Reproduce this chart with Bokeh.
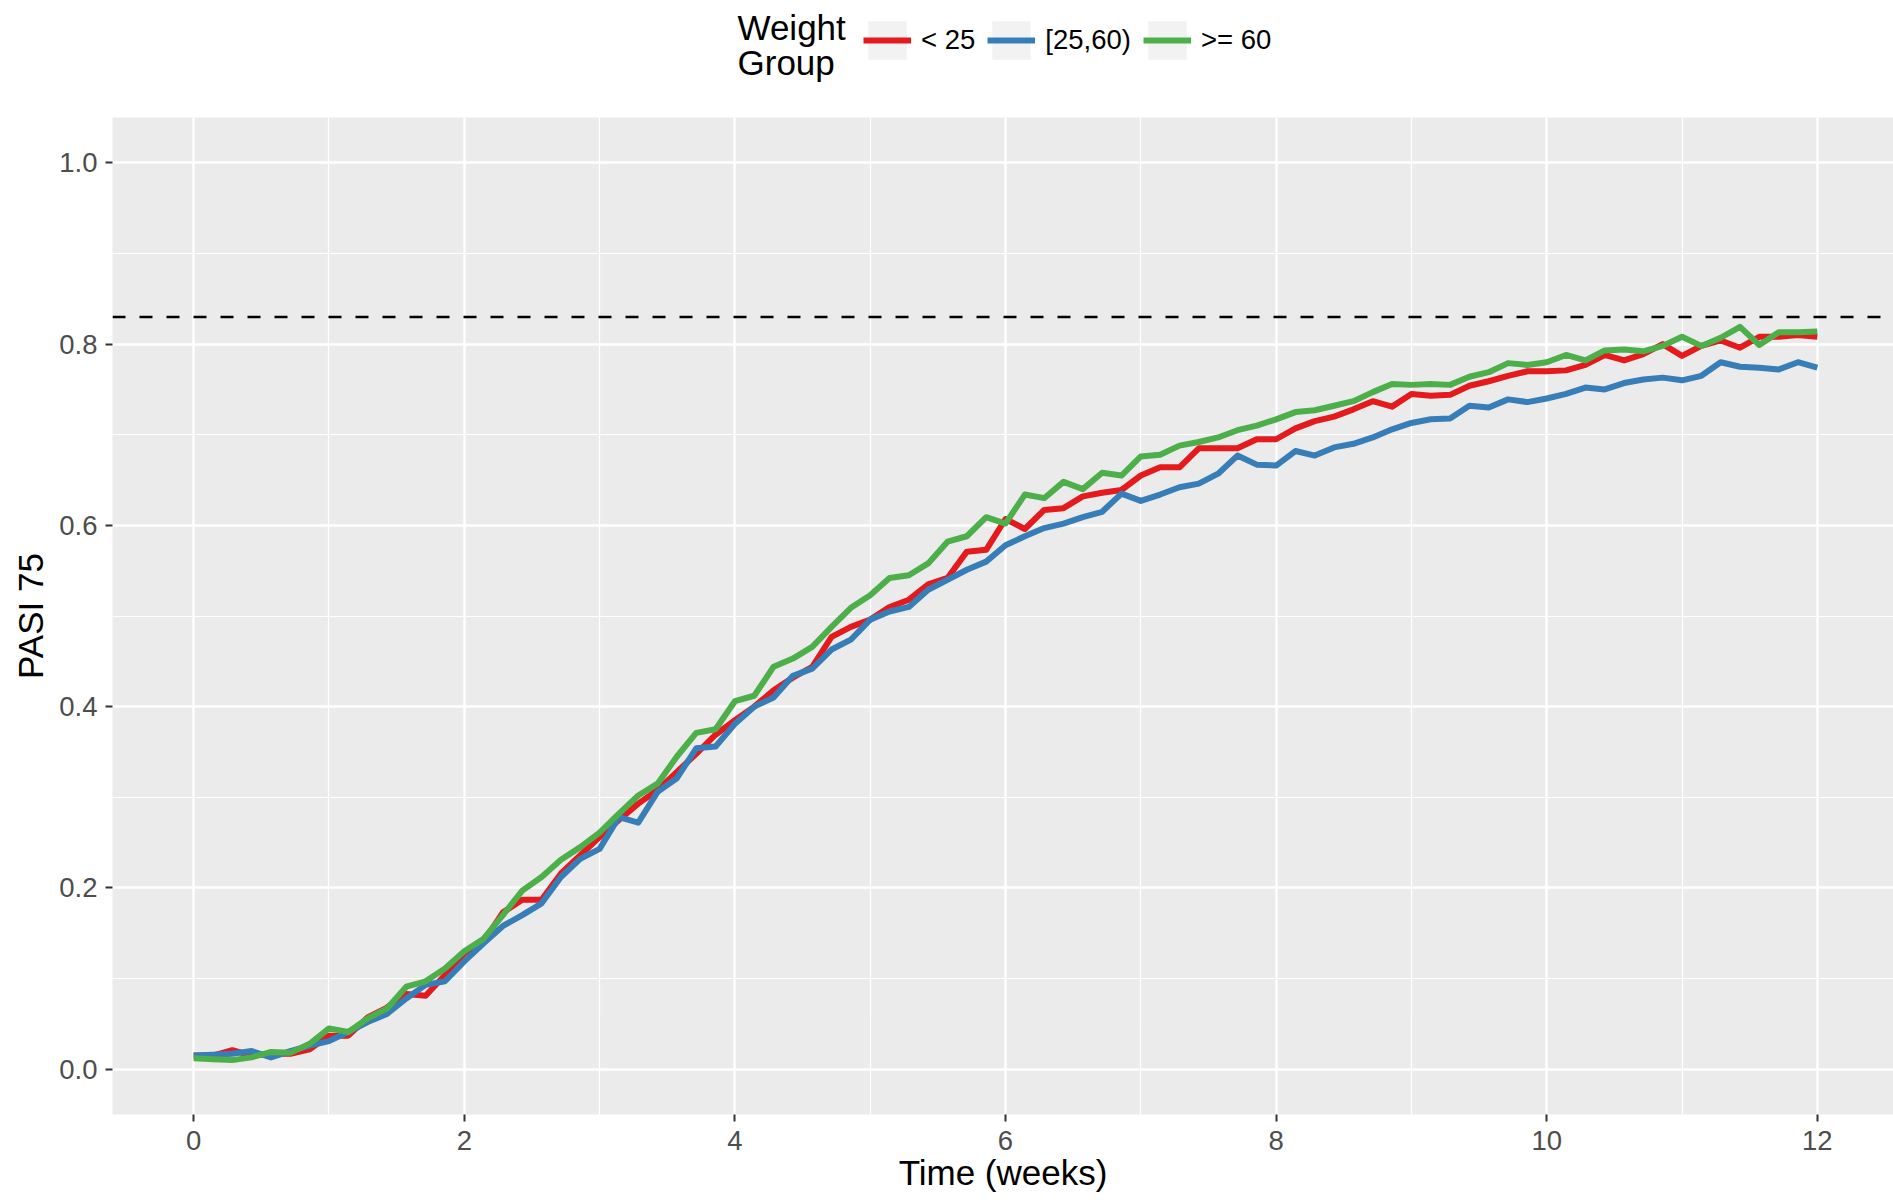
from bokeh.plotting import figure
from bokeh.layouts import column
from bokeh.models import (Range1d, FixedTicker, NumeralTickFormatter, Span, Label,
                          Legend, LegendItem)
from bokeh.embed import file_html
from bokeh.resources import INLINE

# ---------------- data ----------------
days = list(range(85))
time_weeks = [d / 7 for d in days]

group_labels = ["< 25", "[25,60)", ">= 60"]
group_colors = ["#E41A1C", "#377EB8", "#4DAF4A"]

pasi_lt25 = [0.015, 0.015, 0.021, 0.015, 0.017, 0.017, 0.022, 0.037, 0.037, 0.057,
             0.068, 0.083, 0.081, 0.104, 0.128, 0.141, 0.173, 0.187, 0.187, 0.216,
             0.236, 0.256, 0.275, 0.293, 0.308, 0.328, 0.348, 0.369, 0.385, 0.400,
             0.418, 0.432, 0.444, 0.477, 0.488, 0.496, 0.510, 0.518, 0.535, 0.542,
             0.571, 0.573, 0.607, 0.596, 0.617, 0.619, 0.632, 0.636, 0.639, 0.655,
             0.664, 0.664, 0.685, 0.685, 0.685, 0.695, 0.695, 0.707, 0.715, 0.720,
             0.728, 0.737, 0.731, 0.745, 0.743, 0.744, 0.754, 0.759, 0.765, 0.770,
             0.770, 0.771, 0.777, 0.788, 0.782, 0.789, 0.800, 0.787, 0.798, 0.804,
             0.796, 0.808, 0.808, 0.810, 0.808]

pasi_25_60 = [0.015, 0.016, 0.017, 0.020, 0.013, 0.020, 0.026, 0.031, 0.041, 0.052,
              0.061, 0.078, 0.093, 0.097, 0.119, 0.139, 0.158, 0.170, 0.183, 0.212,
              0.232, 0.243, 0.278, 0.272, 0.306, 0.321, 0.354, 0.356, 0.381, 0.400,
              0.410, 0.434, 0.442, 0.463, 0.474, 0.496, 0.505, 0.510, 0.529, 0.540,
              0.551, 0.560, 0.578, 0.588, 0.597, 0.602, 0.609, 0.615, 0.635, 0.627,
              0.634, 0.642, 0.646, 0.657, 0.677, 0.667, 0.666, 0.682, 0.677, 0.686,
              0.690, 0.697, 0.706, 0.713, 0.717, 0.718, 0.732, 0.730, 0.739, 0.736,
              0.740, 0.745, 0.752, 0.750, 0.757, 0.761, 0.763, 0.760, 0.765, 0.780,
              0.775, 0.774, 0.772, 0.780, 0.774]

pasi_ge60 = [0.012, 0.011, 0.010, 0.013, 0.019, 0.018, 0.028, 0.045, 0.041, 0.056,
             0.067, 0.091, 0.097, 0.111, 0.130, 0.144, 0.170, 0.197, 0.212, 0.231,
             0.245, 0.261, 0.282, 0.302, 0.315, 0.345, 0.371, 0.375, 0.406, 0.412,
             0.444, 0.453, 0.466, 0.488, 0.509, 0.523, 0.542, 0.545, 0.558, 0.582,
             0.588, 0.609, 0.602, 0.634, 0.630, 0.648, 0.640, 0.658, 0.655, 0.676,
             0.678, 0.688, 0.692, 0.697, 0.705, 0.710, 0.717, 0.725, 0.727, 0.732,
             0.737, 0.747, 0.756, 0.755, 0.756, 0.755, 0.764, 0.769, 0.779, 0.777,
             0.780, 0.788, 0.782, 0.793, 0.794, 0.792, 0.798, 0.808, 0.798, 0.807,
             0.819, 0.799, 0.813, 0.813, 0.814]

target_line = 0.83

x_ticks = [0, 2, 4, 6, 8, 10, 12]
x_minor = [1, 3, 5, 7, 9, 11]
y_ticks = [0.0, 0.2, 0.4, 0.6, 0.8, 1.0]
y_minor = [0.1, 0.3, 0.5, 0.7, 0.9]

x_title = "Time (weeks)"
y_title = "PASI 75"
legend_title = ["Weight", "Group"]

# ---------------- layout constants ----------------
FONT = "Liberation Sans"
W, H = 1893, 1200
HH = 117                 # header (legend) height
MH = H - HH              # main figure height
BL, BB = 112, 86
X0, X1 = -0.6, 12.563
Y0, Y1 = -0.05, 1.05
LINE_W = 6

# ---------------- header with the legend ----------------
hdr = figure(width=W, height=HH, x_range=Range1d(BL, W), y_range=Range1d(HH, 0),
             output_backend="svg", toolbar_location=None,
             x_axis_type=None, y_axis_type=None,
             min_border_left=0, min_border_right=0, min_border_top=0,
             min_border_bottom=0)
hdr.outline_line_color = None
hdr.background_fill_color = "white"
hdr.border_fill_color = "white"
hdr.xgrid.visible = False
hdr.ygrid.visible = False

items = []
for lab, col in zip(group_labels, group_colors):
    bg = hdr.rect(x=[-500], y=[-500], width=1, height=1, fill_color="#F2F2F2",
                  line_color=None)
    ln = hdr.line([-500, -499], [-500, -500], line_color=col, line_width=LINE_W)
    items.append(LegendItem(label=lab, renderers=[bg, ln]))

legend = Legend(items=items, orientation="horizontal",
                location=(863 - BL, HH - 64),
                glyph_width=48, glyph_height=48, label_standoff=10, spacing=12,
                padding=0, margin=0, border_line_color=None,
                background_fill_alpha=0, label_text_font=FONT,
                label_text_font_size="27.5px", label_text_color="black",
                label_text_baseline="middle")
hdr.add_layout(legend)

hdr.add_layout(Label(x=737, y=27, text=legend_title[0], text_font=FONT,
                     text_font_size="35px", text_color="black",
                     text_baseline="alphabetic", text_align="left"))
hdr.add_layout(Label(x=737, y=62, text=legend_title[1], text_font=FONT,
                     text_font_size="35px", text_color="black",
                     text_baseline="alphabetic", text_align="left"))

# ---------------- main plot ----------------
p = figure(width=W, height=MH, x_range=Range1d(X0, X1), y_range=Range1d(Y0, Y1),
           output_backend="svg", toolbar_location=None,
           min_border_left=BL, min_border_right=0, min_border_top=0,
           min_border_bottom=BB)
p.background_fill_color = "#EBEBEB"
p.border_fill_color = "white"
p.outline_line_color = None

xt = FixedTicker(ticks=x_ticks, minor_ticks=x_minor)
yt = FixedTicker(ticks=y_ticks, minor_ticks=y_minor)
p.xaxis.ticker = xt
p.yaxis.ticker = yt
p.xgrid.ticker = xt
p.ygrid.ticker = yt
p.xaxis.formatter = NumeralTickFormatter(format="0")
p.yaxis.formatter = NumeralTickFormatter(format="0.0")

for g in (p.xgrid, p.ygrid):
    g.grid_line_color = "white"
    g.grid_line_width = 2.4
    g.minor_grid_line_color = "white"
    g.minor_grid_line_width = 1.2

for ax in (p.xaxis, p.yaxis):
    ax.axis_line_color = None
    ax.major_tick_line_color = "#333333"
    ax.major_tick_line_width = 2
    ax.major_tick_in = 0
    ax.major_tick_out = 7
    ax.minor_tick_line_color = None
    ax.major_label_text_color = "#4D4D4D"
    ax.major_label_text_font = FONT
    ax.major_label_text_font_size = "27.5px"
    ax.axis_label_text_font = FONT
    ax.axis_label_text_font_size = "35px"
    ax.axis_label_text_font_style = "normal"
    ax.axis_label_text_color = "black"
p.xaxis.major_label_standoff = 9
p.yaxis.major_label_standoff = 8
p.xaxis.axis_label = x_title
p.yaxis.axis_label = y_title
p.xaxis.axis_label_standoff = 0
p.yaxis.axis_label_standoff = 6

for col, vals in zip(group_colors, [pasi_lt25, pasi_25_60, pasi_ge60]):
    p.line(time_weeks, vals, line_color=col, line_width=LINE_W, line_join="round")

p.add_layout(Span(location=target_line, dimension="width", line_color="black",
                  line_width=2.5, line_dash="13 14"))

layout = column(hdr, p, spacing=0)
open("out.html", "w").write(file_html(layout, INLINE))
